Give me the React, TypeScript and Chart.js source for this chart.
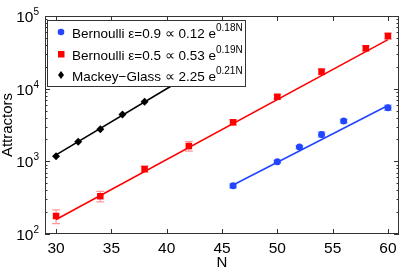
import { useEffect, useRef } from 'react';
import { Chart, registerables } from 'chart.js';
Chart.register(...registerables);

// ---- data ----
const blueN = [46, 50, 52, 54, 56, 60];
const blueA = [461, 990, 1573, 2345, 3580, 5470];
const blueErr = [30, 40, 70, 200, 200, 450];

const redN = [30, 34, 38, 42, 46, 50, 54, 58, 60];
const redA = [177, 331, 783, 1623, 3443, 7740, 17140, 35950, 53100];
const redErr = [38, 55, 75, 240, 280, 500, 1600, 2900, 5000];

const mgN = [30, 32, 34, 36, 38];
const mgA = [1172, 1854, 2756, 4426, 6600];

const blueFitN = [46, 60];
const blueFitA = [473, 5882];
const redFitN = [30, 60];
const redFitA = [158, 47340];
const mgFitN = [30, 42];
const mgFitA = [1225, 15200];

const xTicks = [30, 35, 40, 45, 50, 55, 60];
const yDecades = [2, 3, 4, 5];

const legendMain = ['Bernoulli \u03b5=0.9 \u221d 0.12 e', 'Bernoulli \u03b5=0.5 \u221d 0.53 e', 'Mackey\u2212Glass \u221d 2.25 e'];
const legendSup = ['0.18N', '0.19N', '0.21N'];

const BLUE = '#2246ff';
const RED = '#ff0000';
const BLACK = '#000000';
const FONT = '"Liberation Sans", Arial, Helvetica, sans-serif';

const pts = (xs: number[], ys: number[]) => xs.map((x, i) => ({ x, y: ys[i] }));

const errorBarPlugin = {
  id: 'errbars',
  beforeDatasetsDraw(chart: any) {
    const ctx = chart.ctx;
    const xs = chart.scales.x;
    const ys = chart.scales.y;
    const groups = [
      { n: redN, a: redA, e: redErr, c: 'rgba(255,0,0,0.4)' },
      { n: blueN, a: blueA, e: blueErr, c: 'rgba(34,70,255,0.45)' },
    ];
    ctx.save();
    ctx.lineWidth = 1.2;
    for (const g of groups) {
      ctx.strokeStyle = g.c;
      g.n.forEach((n, i) => {
        const px = xs.getPixelForValue(n);
        const top = ys.getPixelForValue(g.a[i] + g.e[i]);
        const bot = ys.getPixelForValue(Math.max(g.a[i] - g.e[i], 1));
        ctx.beginPath();
        ctx.moveTo(px, top);
        ctx.lineTo(px, bot);
        ctx.moveTo(px - 4, top);
        ctx.lineTo(px + 4, top);
        ctx.moveTo(px - 4, bot);
        ctx.lineTo(px + 4, bot);
        ctx.stroke();
      });
    }
    ctx.restore();
  },
};

const framePlugin = {
  id: 'frame',
  afterDraw(chart: any) {
    const ctx = chart.ctx;
    const { left, right, top, bottom } = chart.chartArea;
    const xs = chart.scales.x;
    const ys = chart.scales.y;
    ctx.save();
    ctx.strokeStyle = '#333';
    ctx.lineWidth = 1;
    ctx.strokeRect(left + 0.5, top + 0.5, right - left - 1, bottom - top - 1);

    // x ticks
    ctx.beginPath();
    for (const t of xTicks) {
      const px = Math.round(xs.getPixelForValue(t)) + 0.5;
      ctx.moveTo(px, bottom);
      ctx.lineTo(px, bottom - 5);
      ctx.moveTo(px, top);
      ctx.lineTo(px, top + 5);
    }
    // y ticks
    for (let d = yDecades[0]; d <= yDecades[yDecades.length - 1]; d++) {
      for (let m = 1; m <= 9; m++) {
        if (d === yDecades[yDecades.length - 1] && m > 1) break;
        const v = m * Math.pow(10, d);
        const py = Math.round(ys.getPixelForValue(v)) + 0.5;
        const len = m === 1 ? 5 : 2.5;
        ctx.moveTo(left, py);
        ctx.lineTo(left + len, py);
        ctx.moveTo(right, py);
        ctx.lineTo(right - len, py);
      }
    }
    ctx.stroke();

    // x tick labels
    ctx.fillStyle = '#000';
    ctx.font = `15.5px ${FONT}`;
    ctx.textAlign = 'center';
    ctx.textBaseline = 'alphabetic';
    for (const t of xTicks) {
      ctx.fillText(String(t), xs.getPixelForValue(t), 253);
    }
    // x title
    ctx.font = `15px ${FONT}`;
    ctx.fillText('N', (left + right) / 2, 267);

    // y tick labels 10^d
    for (const d of yDecades) {
      const py = ys.getPixelForValue(Math.pow(10, d));
      ctx.font = `15.5px ${FONT}`;
      const w1 = ctx.measureText('10').width;
      ctx.font = `10px ${FONT}`;
      const w2 = ctx.measureText(String(d)).width;
      const x0 = 39 - w1 - w2;
      ctx.textAlign = 'left';
      ctx.textBaseline = 'alphabetic';
      ctx.font = `15.5px ${FONT}`;
      ctx.fillText('10', x0, py + 6);
      ctx.font = `10px ${FONT}`;
      ctx.fillText(String(d), x0 + w1, py - 1);
    }

    // y title
    ctx.save();
    ctx.translate(12, (top + bottom) / 2);
    ctx.rotate(-Math.PI / 2);
    ctx.textAlign = 'center';
    ctx.textBaseline = 'alphabetic';
    ctx.font = `15px ${FONT}`;
    ctx.fillText('Attractors', 0, 0);
    ctx.restore();

    // legend
    const lx = 47, ly = 20, lw = 198, lh = 66;
    ctx.fillStyle = '#fff';
    ctx.fillRect(lx, ly, lw, lh);
    ctx.strokeStyle = '#333';
    ctx.strokeRect(lx + 0.5, ly + 0.5, lw, lh);
    const rows = [33, 55, 76];
    const cols = [BLUE, RED, BLACK];
    rows.forEach((ry, i) => {
      ctx.fillStyle = cols[i];
      ctx.beginPath();
      if (i === 0) {
        ctx.arc(61, ry - 1, 3.3, 0, Math.PI * 2);
      } else if (i === 1) {
        ctx.rect(58, ry - 4, 6.5, 6.5);
      } else {
        ctx.moveTo(61, ry - 5);
        ctx.lineTo(64, ry - 1);
        ctx.lineTo(61, ry + 3);
        ctx.lineTo(58, ry - 1);
        ctx.closePath();
      }
      ctx.fill();
      ctx.fillStyle = '#000';
      ctx.textAlign = 'left';
      ctx.textBaseline = 'alphabetic';
      ctx.font = `13.5px ${FONT}`;
      ctx.fillText(legendMain[i], 72, ry + 5);
      const w = ctx.measureText(legendMain[i]).width;
      ctx.font = `10px ${FONT}`;
      ctx.fillText(legendSup[i], 72 + w, ry - 2);
    });
    ctx.restore();
  },
};

export default function App() {
  const ref = useRef<HTMLCanvasElement | null>(null);
  useEffect(() => {
    document.body.style.margin = '0';
    const canvas = ref.current!;
    const chart = new Chart(canvas, {
      type: 'scatter',
      data: {
        datasets: [
          { data: pts(blueN, blueA), backgroundColor: BLUE, borderColor: BLUE, pointStyle: 'circle', pointRadius: 3.5, borderWidth: 0, order: 0 },
          { data: pts(redN, redA), backgroundColor: RED, borderColor: RED, pointStyle: 'rect', pointRadius: 4.6, borderWidth: 0, order: 0 },
          { data: pts(mgN, mgA), backgroundColor: BLACK, borderColor: BLACK, pointStyle: 'rectRot', pointRadius: 4, borderWidth: 0, order: 0 },
          { data: pts(blueFitN, blueFitA), showLine: true, borderColor: BLUE, borderWidth: 1.6, pointRadius: 0, order: 1 },
          { data: pts(redFitN, redFitA), showLine: true, borderColor: RED, borderWidth: 1.6, pointRadius: 0, order: 1 },
          { data: pts(mgFitN, mgFitA), showLine: true, borderColor: BLACK, borderWidth: 1.6, pointRadius: 0, order: 1 },
        ],
      },
      options: {
        animation: false,
        responsive: false,
        devicePixelRatio: 1,
        layout: { padding: { left: 45, right: 16, top: 16, bottom: 36 } },
        plugins: { legend: { display: false }, tooltip: { enabled: false } },
        scales: {
          x: { type: 'linear', min: 29, max: 61, display: false },
          y: { type: 'logarithmic', min: 100, max: 100000, display: false },
        },
      },
      plugins: [errorBarPlugin, framePlugin],
    } as any);
    return () => chart.destroy();
  }, []);
  return (
    <div style={{ width: 415, height: 270 }}>
      <canvas ref={ref} width={415} height={270} style={{ display: 'block' }} />
    </div>
  );
}
